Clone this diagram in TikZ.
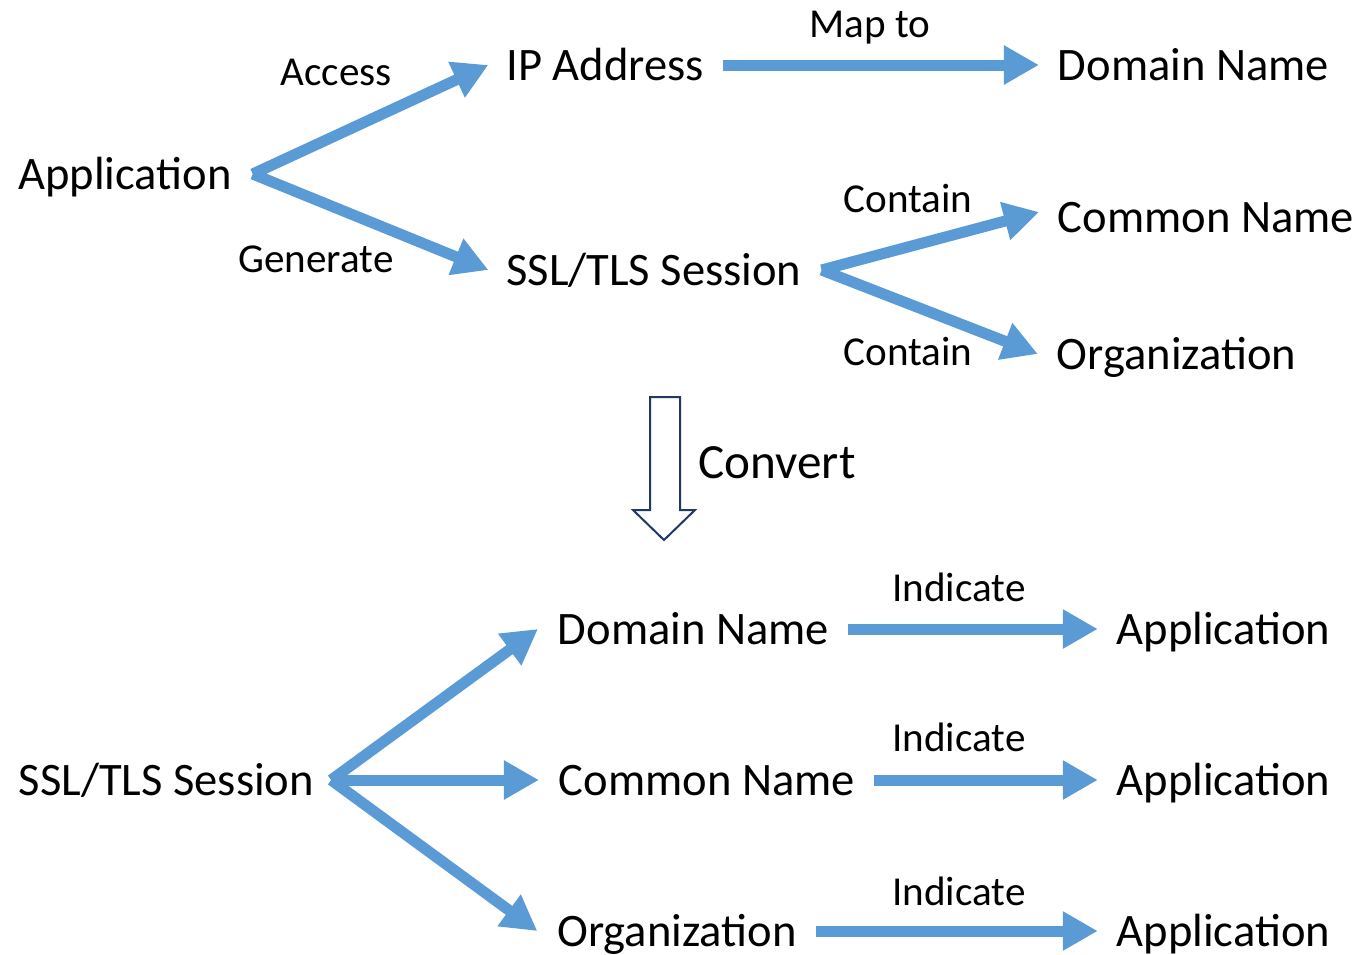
\documentclass[tikz,border=0pt]{standalone}
\usepackage{fontspec}
\setmainfont{Carlito}
\usepackage{tikz}
\usetikzlibrary{arrows.meta}

\definecolor{flowblue}{HTML}{5B9BD5}
\definecolor{navy}{HTML}{1F3864}

\tikzset{
  term/.style={inner sep=0pt, outer sep=0pt, font=\fontsize{26.5}{30}\selectfont,
               text height=17.1pt, text depth=0pt},
  verb/.style={inner sep=0pt, font=\fontsize{23.4}{28}\selectfont,
               text height=15.1pt, text depth=0pt},
  flow/.style={flowblue, line width=0.22cm,
               -{Triangle[length=0.7cm, width=0.74cm]}},
  straightflow/.style={flow, shorten <=0.38cm, shorten >=0.38cm}
}

\begin{document}
\begin{tikzpicture}
            \useasboundingbox (0,0) rectangle (27.32,-19.1);
            % first row of terms
            \node[term] (app) at (2.5,-3.48) {Application};
            \node[term] (ip) at (12.1,-1.3) {IP Address};
            \node[term] (dom) at (23.87,-1.3) {Domain Name};
            \node[term] (ssl) at (13.08,-5.4) {SSL/TLS Session};
            \node[term] (cn) at (24.12,-4.34) {Common Name};
            \node[term] (org) at (23.53,-7.08) {Organization};
            \coordinate (appfork) at ([xshift=0.42cm]app.east);
            \coordinate (sslfork) at ([xshift=0.4cm]ssl.east);
            \draw[flow] (appfork) -- ([xshift=-0.36cm]ip.west);
            \draw[flow] (appfork) -- ([xshift=-0.36cm]ssl.west);
            \draw[straightflow] (ip.east) -- (dom.west);
            \draw[flow] (sslfork) -- ([xshift=-0.38cm,yshift=0.1cm]cn.west);
            \draw[flow] (sslfork) -- ([xshift=-0.38cm]org.west);
            \node[verb] (access) at (6.72,-1.44) {Access};
            \node[verb] (generate) at (6.32,-5.18) {Generate};
            \node[verb] (mapto) at (17.4,-0.48) {Map to};
            \node[verb] (contain1) at (18.16,-3.98) {Contain};
            \node[verb] (contain2) at (18.16,-7.04) {Contain};
            % convert
            \draw[navy, line width=0.04cm, fill=white] (13.0,-7.94) -- (13.6,-7.94) -- (13.6,-10.2)
                -- (13.9,-10.2) -- (13.28,-10.8) -- (12.66,-10.2) -- (13.0,-10.2) -- cycle;
            \node[verb, font=\fontsize{28}{32}\selectfont, text height=18pt] (convert) at (15.54,-9.26) {Convert};
            % second row of terms
            \node[term] (ssltwo) at (3.33,-15.6) {SSL/TLS Session};
            \node[term] (domtwo) at (13.87,-12.58) {Domain Name};
            \node[term] (cntwo) at (14.14,-15.6) {Common Name};
            \node[term] (orgtwo) at (13.54,-18.62) {Organization};
            \node[term] (appa) at (24.47,-12.58) {Application};
            \node[term] (appb) at (24.47,-15.6) {Application};
            \node[term] (appc) at (24.47,-18.62) {Application};
            \coordinate (ssltwofork) at ([xshift=0.34cm]ssltwo.east);
            \draw[flow] (ssltwofork) -- ([xshift=-0.4cm]domtwo.west);
            \draw[flow] (ssltwofork) -- ([xshift=-0.4cm]cntwo.west);
            \draw[flow] (ssltwofork) -- ([xshift=-0.4cm]orgtwo.west);
            \draw[straightflow] (domtwo.east) -- (appa.west);
            \draw[straightflow] (cntwo.east) -- (appb.west);
            \draw[straightflow] (orgtwo.east) -- (appc.west);
            \node[verb] (ind1) at (19.18,-11.76) {Indicate};
            \node[verb] (ind2) at (19.18,-14.76) {Indicate};
            \node[verb] (ind3) at (19.18,-17.84) {Indicate};
        \end{tikzpicture}
\end{document}
